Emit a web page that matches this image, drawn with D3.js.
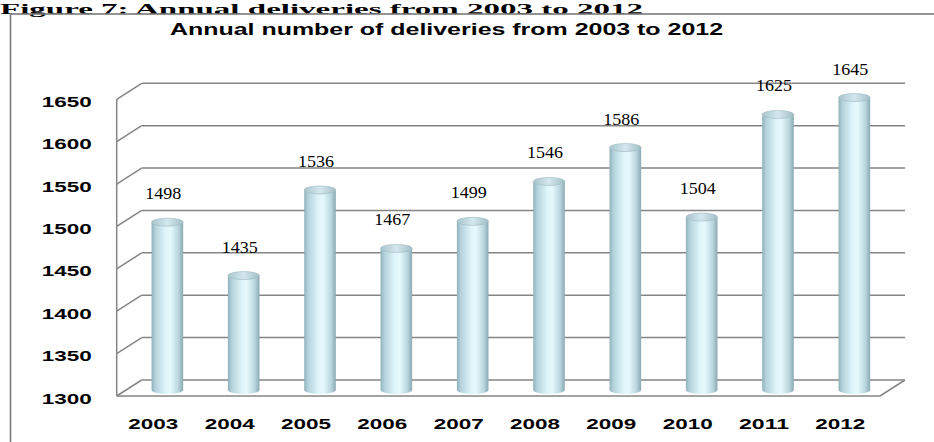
<!DOCTYPE html>
<html>
<head>
<meta charset="utf-8">
<script src="https://cdn.jsdelivr.net/npm/d3@7/dist/d3.min.js"></script>
<style>
  html, body { margin: 0; padding: 0; background: #fff; }
  svg { display: block; }
</style>
</head>
<body>
<svg id="chart" width="934" height="442"></svg>
<script>
// ---- data ----
const years = ["2003","2004","2005","2006","2007","2008","2009","2010","2011","2012"];
const deliveries = [1498, 1435, 1536, 1467, 1499, 1546, 1586, 1504, 1625, 1645];
const yTicks = [1300, 1350, 1400, 1450, 1500, 1550, 1600, 1650];
const figureTitle = "Figure 7: Annual deliveries from 2003 to 2012";
const chartTitle = "Annual number of deliveries from 2003 to 2012";

const svg = d3.select("#chart");

// layout
const frontLeft = 116.7, frontRight = 880;
const depthX = 25, depthY = -16;
const y = d3.scaleLinear().domain([1300, 1650]).range([396, 99.3]);
const xFront = d3.scaleBand().domain(years).range([frontLeft, frontRight]).padding(0);
const xMid = d3.scaleBand().domain(years).range([frontLeft + depthX / 2, frontRight + depthX / 2]).padding(0);
const barW = xMid.bandwidth() * 0.414;
const yMid = v => y(v) - 6;
const ry = 4;

// defs: cylinder gradient
const defs = svg.append("defs");
const g1 = defs.append("linearGradient").attr("id", "cyl").attr("x1", "0").attr("x2", "1").attr("y1", "0").attr("y2", "0");
[[0, "#8fb0ba"], [0.12, "#b4d2db"], [0.45, "#dff5fa"], [0.6, "#e6f9fd"], [0.85, "#b9d6de"], [1, "#8ba9b3"]]
  .forEach(([o, c]) => g1.append("stop").attr("offset", o).attr("stop-color", c));
const g2 = defs.append("linearGradient").attr("id", "cap").attr("x1", "0").attr("x2", "1").attr("y1", "0").attr("y2", "0");
[[0, "#a9c5cd"], [0.5, "#d3e8ee"], [1, "#a3bec7"]]
  .forEach(([o, c]) => g2.append("stop").attr("offset", o).attr("stop-color", c));

// figure title
svg.append("text")
  .attr("x", 0).attr("y", 13.5)
  .attr("font-family", "'Liberation Serif', 'DejaVu Serif', serif")
  .attr("font-weight", "bold").attr("font-size", 15)
  .attr("textLength", 643).attr("lengthAdjust", "spacingAndGlyphs")
  .attr("fill", "#000")
  .text(figureTitle);

// frame
svg.append("rect")
  .attr("x", 10.5).attr("y", 14).attr("width", 1000).attr("height", 1000)
  .attr("fill", "none").attr("stroke", "#7a7a7a").attr("stroke-width", 1.6);

// chart title
svg.append("text")
  .attr("x", 446.5).attr("y", 35)
  .attr("text-anchor", "middle")
  .attr("font-family", "'Liberation Sans', Arial, sans-serif")
  .attr("font-weight", "bold").attr("font-size", 16)
  .attr("textLength", 553).attr("lengthAdjust", "spacingAndGlyphs")
  .text(chartTitle);

const gridColor = "#858585";

// floor
svg.append("path")
  .attr("d", d3.line()([[frontLeft, y(1300)], [frontRight, y(1300)], [frontRight + depthX, y(1300) + depthY], [frontLeft + depthX, y(1300) + depthY]]) + "Z")
  .attr("fill", "#fff").attr("stroke", "none");

// back-wall gridlines and side-wall diagonals
const grid = svg.append("g").attr("stroke", gridColor).attr("stroke-width", 1.5).attr("fill", "none");
yTicks.forEach(v => {
  grid.append("line")
    .attr("x1", frontLeft + depthX).attr("x2", frontRight + depthX)
    .attr("y1", y(v) + depthY).attr("y2", y(v) + depthY);
  grid.append("line")
    .attr("x1", frontLeft).attr("x2", frontLeft + depthX)
    .attr("y1", y(v)).attr("y2", y(v) + depthY);
});
grid.append("line")
  .attr("x1", frontLeft).attr("x2", frontLeft)
  .attr("y1", y(1650)).attr("y2", y(1300));
grid.append("line")
  .attr("x1", frontLeft).attr("x2", frontRight)
  .attr("y1", y(1300)).attr("y2", y(1300));
grid.append("line")
  .attr("x1", frontRight).attr("x2", frontRight + depthX)
  .attr("y1", y(1300)).attr("y2", y(1300) + depthY);

// y tick labels
svg.append("g").selectAll("text").data(yTicks).join("text")
  .attr("x", 91.7).attr("y", d => y(d) + 2)
  .attr("text-anchor", "end").attr("dominant-baseline", "central")
  .attr("font-family", "'Liberation Sans', Arial, sans-serif")
  .attr("font-weight", "bold").attr("font-size", 15)
  .attr("textLength", 50).attr("lengthAdjust", "spacingAndGlyphs")
  .text(d => d);

// x labels
svg.append("g").selectAll("text").data(years).join("text")
  .attr("x", d => xFront(d) + xFront.bandwidth() / 2 - 1.5).attr("y", 423)
  .attr("text-anchor", "middle").attr("dominant-baseline", "central")
  .attr("font-family", "'Liberation Sans', Arial, sans-serif")
  .attr("font-weight", "bold").attr("font-size", 15)
  .attr("textLength", 50).attr("lengthAdjust", "spacingAndGlyphs")
  .text(d => d);

// cylinders
const data = years.map((yr, i) => ({ yr, v: deliveries[i] }));
const bars = svg.append("g").selectAll("g").data(data).join("g");
bars.append("path")
  .attr("d", d => {
    const cx = xMid(d.yr) + xMid.bandwidth() / 2;
    const x0 = cx - barW / 2, x1 = cx + barW / 2;
    const yt = yMid(d.v), yb = yMid(1300);
    return `M${x0},${yt} L${x0},${yb} A${barW / 2},${ry} 0 0 0 ${x1},${yb} L${x1},${yt} Z`;
  })
  .attr("fill", "url(#cyl)");
bars.append("ellipse")
  .attr("cx", d => xMid(d.yr) + xMid.bandwidth() / 2)
  .attr("cy", d => yMid(d.v))
  .attr("rx", barW / 2).attr("ry", ry)
  .attr("fill", "url(#cap)").attr("stroke", "#9db8c0").attr("stroke-width", 0.6);

// value labels
bars.append("text")
  .attr("x", d => xMid(d.yr) + xMid.bandwidth() / 2 - 4)
  .attr("y", d => yMid(d.v) - ry - 19)
  .attr("text-anchor", "middle")
  .attr("font-family", "'Liberation Serif', 'Times New Roman', serif")
  .attr("font-size", 16.5).attr("fill", "#000")
  .attr("textLength", 36).attr("lengthAdjust", "spacingAndGlyphs")
  .text(d => d.v);
</script>
</body>
</html>
